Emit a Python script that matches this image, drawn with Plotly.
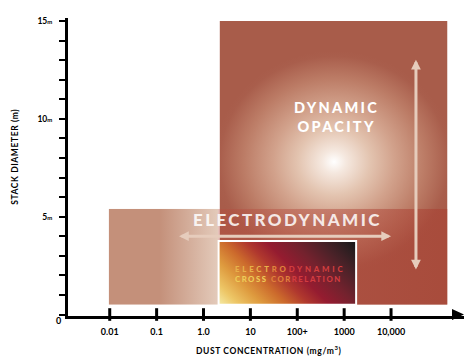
import base64
import numpy as np
import plotly.graph_objects as go

# ---------------- data ----------------
conc_ticks = [0.01, 0.1, 1, 10, 100, 1000, 10000]
conc_tick_labels = ["0.01", "0.1", "1.0", "10", "100+", "1000", "10,000"]
diam_ticks = [5, 10, 15]
diam_tick_labels = ["5", "10", "15"]

region_names = ["DYNAMIC<br>OPACITY", "ELECTRODYNAMIC", "ELECTRODYNAMIC<br>CROSS CORRELATION"]
region_conc_lo = [2.2, 0.0095, 2.1]        # mg/m3
region_conc_hi = [160000, 160000, 1800]    # mg/m3
region_diam_lo = [0.5, 0.5, 0.5]           # m
region_diam_hi = [15.0, 5.4, 3.76]         # m
label_conc = [680, 62, 4.3]
label_diam = [10.1, 4.85, 2.05]

h_arrow_conc = [0.28, 10000]
h_arrow_diam = 4.0
v_arrow_conc = 34000
v_arrow_diam = [13.1, 2.3]

# ---------------- layout geometry ----------------
W, H = 466, 356
ML, MR, MT, MB = 68.3, 2, 18, 40.3
px_per_dec = 46.85
px_per_m = 19.747
x_lo = -2 - (110 - ML) / px_per_dec
x_hi = -2 + (W - MR - 110) / px_per_dec
y_lo = -1.5 / px_per_m
y_hi = 15 + 3 / px_per_m
axis_x = x_lo - 1.5 / px_per_dec

lx = np.log10


def svg_uri(svg):
    return "data:image/svg+xml;base64," + base64.b64encode(svg.encode()).decode()


svg_dyn = """<svg xmlns="http://www.w3.org/2000/svg" width="229" height="286" viewBox="0 0 229 286" preserveAspectRatio="none">
<defs><radialGradient id="g" gradientUnits="userSpaceOnUse" cx="115" cy="142" r="112" gradientTransform="translate(115 142) scale(1.08 1) translate(-115 -142)">
<stop offset="0" stop-color="#FFFFFF"/><stop offset="0.1" stop-color="#F5E8DF"/>
<stop offset="0.3" stop-color="#E3C4B0"/><stop offset="0.5" stop-color="#D2A28C"/>
<stop offset="0.75" stop-color="#BC7C66"/><stop offset="0.95" stop-color="#A95E4C"/>
<stop offset="1" stop-color="#A85C4A"/></radialGradient></defs>
<rect width="229" height="286" fill="url(#g)"/></svg>"""

svg_el = """<svg xmlns="http://www.w3.org/2000/svg" width="340" height="97" viewBox="0 0 340 97" preserveAspectRatio="none">
<defs><linearGradient id="g" x1="0" y1="0" x2="1" y2="0">
<stop offset="0" stop-color="#C4907A"/><stop offset="0.15" stop-color="#C4907A"/>
<stop offset="0.322" stop-color="#E3CABA"/>
<stop offset="0.322" stop-color="#B84C3E" stop-opacity="0.35"/>
<stop offset="0.6" stop-color="#B04438" stop-opacity="0.45"/>
<stop offset="1" stop-color="#A83E30" stop-opacity="0.55"/></linearGradient></defs>
<rect width="340" height="97" fill="url(#g)"/></svg>"""

svg_cc = """<svg xmlns="http://www.w3.org/2000/svg" width="138" height="65" viewBox="0 0 138 65" preserveAspectRatio="none">
<defs><linearGradient id="g" gradientUnits="userSpaceOnUse" x1="0" y1="65" x2="101.5" y2="-36.5">
<stop offset="0" stop-color="#F5EBA6"/><stop offset="0.1" stop-color="#EDC666"/>
<stop offset="0.22" stop-color="#DE9A3E"/><stop offset="0.34" stop-color="#CC6A2C"/>
<stop offset="0.45" stop-color="#B0382E"/><stop offset="0.55" stop-color="#951C30"/>
<stop offset="0.68" stop-color="#74222E"/><stop offset="0.82" stop-color="#4A2228"/>
<stop offset="0.93" stop-color="#2A1E20"/><stop offset="1" stop-color="#121416"/></linearGradient></defs>
<rect width="138" height="65" fill="url(#g)"/></svg>"""

svgs = [svg_dyn, svg_el, svg_cc]

fig = go.Figure()

images = []
for i in range(3):
    x0 = lx(region_conc_lo[i]); x1 = lx(region_conc_hi[i])
    images.append(dict(source=svg_uri(svgs[i]), xref="x", yref="y",
                       x=x0, y=region_diam_hi[i],
                       sizex=x1 - x0, sizey=region_diam_hi[i] - region_diam_lo[i],
                       xanchor="left", yanchor="top", sizing="stretch", layer="below"))

# tick marks drawn as markers
fig.add_trace(go.Scatter(x=[lx(c) for c in conc_ticks], y=[0] * len(conc_ticks), mode="markers",
                         marker=dict(symbol="line-ns", size=9, line=dict(width=3, color="black")),
                         cliponaxis=False, hoverinfo="skip", showlegend=False))
fig.add_trace(go.Scatter(x=[axis_x] * len(diam_ticks), y=diam_ticks, mode="markers",
                         marker=dict(symbol="line-ew", size=9, line=dict(width=4, color="black")),
                         cliponaxis=False, hoverinfo="skip", showlegend=False))

shapes = [
    dict(type="rect", xref="x", yref="y", x0=lx(region_conc_lo[2]), x1=lx(region_conc_hi[2]),
         y0=region_diam_lo[2], y1=region_diam_hi[2], line=dict(color="white", width=2),
         fillcolor="rgba(0,0,0,0)"),
    dict(type="path", xref="paper", yref="paper", xsizemode="pixel", ysizemode="pixel",
         xanchor=1, yanchor=(0 - y_lo) / (y_hi - y_lo),
         path="M-12,5.5 L0,0 L-12,-5.5 Z", fillcolor="black", line=dict(width=0)),
]

arrow_col = "#E6CCBC"
annotations = [
    # arrows
    dict(x=lx(h_arrow_conc[1]), y=h_arrow_diam, ax=lx(h_arrow_conc[0]), ay=h_arrow_diam,
         xref="x", yref="y", axref="x", ayref="y", text="", showarrow=True,
         arrowside="end+start", arrowhead=2, startarrowhead=2, arrowsize=0.65,
         startarrowsize=0.65, arrowwidth=3, arrowcolor=arrow_col),
    dict(x=lx(v_arrow_conc), y=v_arrow_diam[1], ax=lx(v_arrow_conc), ay=v_arrow_diam[0],
         xref="x", yref="y", axref="x", ayref="y", text="", showarrow=True,
         arrowside="end+start", arrowhead=2, startarrowhead=2, arrowsize=0.65,
         startarrowsize=0.65, arrowwidth=3, arrowcolor=arrow_col),
    # region labels
    dict(x=lx(label_conc[0]), y=label_diam[0], xref="x", yref="y", showarrow=False,
         text="<span style='letter-spacing:2.3px'>DYNAMIC<br>OPACITY</span>",
         font=dict(family="Lato", size=14.5, color="white", weight=900)),
    dict(x=lx(label_conc[1]), y=label_diam[1], xref="x", yref="y", showarrow=False,
         text="<span style='letter-spacing:2.4px'>ELECTRODYNAMIC</span>",
         font=dict(family="Lato", size=17, color="rgba(255,255,255,0.85)", weight=900)),
    dict(x=lx(label_conc[2]), y=label_diam[2], xref="x", yref="y", showarrow=False,
         xanchor="left", align="left",
         text=("<span style='letter-spacing:2.8px'>"
               "<span style='color:#E8B04A'>ELECT</span><span style='color:#E0843C'>RO</span>"
               "<span style='color:#D23E3E'>DYNAMIC</span></span><br>"
               "<span style='letter-spacing:1.5px'>"
               "<span style='color:#EECC58'>CROSS </span><span style='color:#E0803C'>COR</span>"
               "<span style='color:#D23C40'>RELATION</span></span>"),
         font=dict(family="Lato", size=7.8, color="#D06040", weight=900)),
    # axis titles
    dict(xref="paper", yref="paper", x=0, xshift=15 - ML, y=(H - MB - 157) / (H - MT - MB),
         xanchor="center", yanchor="middle", textangle=-90, showarrow=False,
         text="<span style='letter-spacing:0.6px'>STACK DIAMETER (m)</span>",
         font=dict(family="Lato", size=8.5, color="black", weight="bold")),
    dict(xref="x", yref="paper", x=-2 + (269 - 110) / px_per_dec, y=0, yshift=-(350 - (H - MB)),
         xanchor="center", yanchor="middle",
         showarrow=False, text="<span style='letter-spacing:0.6px'>DUST CONCENTRATION (mg/m<sup>3</sup>)</span>",
         font=dict(family="Lato", size=8.5, color="black", weight="bold")),
    dict(xref="x", yref="y", x=x_lo, y=0, xshift=-10, yshift=-6, showarrow=False,
         text="0", font=dict(family="Lato", size=9, color="black", weight="bold")),
]

fig.update_layout(
    width=W, height=H, margin=dict(l=ML, r=MR, t=MT, b=MB, pad=0, autoexpand=False),
    paper_bgcolor="white", plot_bgcolor="white", showlegend=False,
    images=images, shapes=shapes, annotations=annotations,
    xaxis=dict(range=[x_lo, x_hi], tickvals=[lx(c) for c in conc_ticks], ticktext=conc_tick_labels,
               showline=True, linewidth=3, linecolor="black", ticks="", showgrid=False,
               zeroline=False, ticklabelstandoff=5, automargin=False,
               tickfont=dict(family="Lato", size=9, color="black", weight="bold")),
    yaxis=dict(range=[y_lo, y_hi], tickvals=diam_ticks,
               ticktext=[t + "<span style='font-size:6px'>m</span>" for t in diam_tick_labels],
               showline=True, linewidth=3, linecolor="black", ticks="", showgrid=False,
               zeroline=False, ticklabelstandoff=11, automargin=False,
               minor=dict(dtick=1, tick0=0, ticks="outside", ticklen=6, tickwidth=2,
                          tickcolor="black", showgrid=False),
               tickfont=dict(family="Lato", size=8.5, color="black", weight="bold")),
)

fig.write_html("out.html", config={"displayModeBar": False, "staticPlot": True},
               post_script="document.body.style.margin='0';document.body.style.overflow='hidden';")
